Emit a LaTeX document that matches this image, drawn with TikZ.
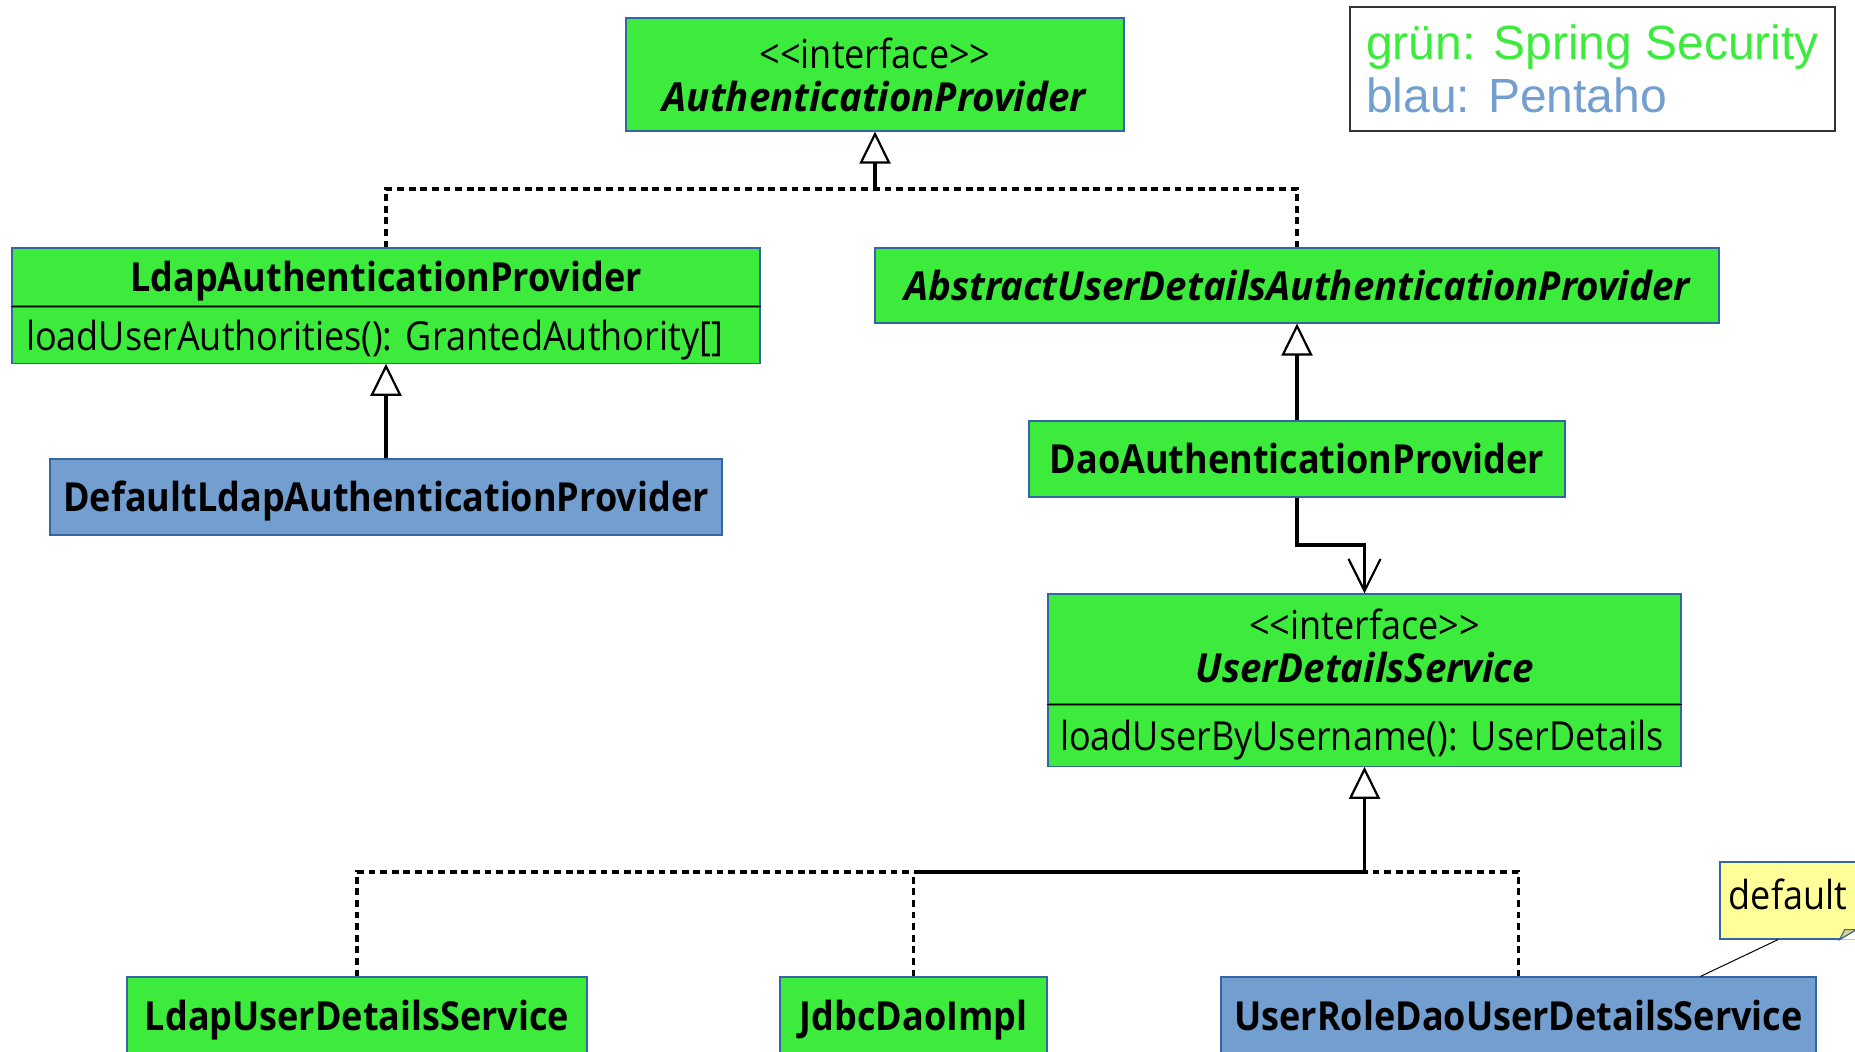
\documentclass[tikz,border=0pt]{standalone}
\usepackage{fontspec}
\usepackage{xcolor}
\usepackage{tikz}
\usetikzlibrary{arrows.meta,positioning}

\newfontfamily\umlfont{Open Sans}[
  UprightFeatures={FakeStretch=0.9},
  BoldFeatures={FakeStretch=0.9},
  BoldItalicFeatures={FakeStretch=0.96}]
\newfontfamily\legendfont{Liberation Sans}

\definecolor{springgreen}{HTML}{3DEB3D}
\definecolor{pentahoblue}{HTML}{729FCF}
\definecolor{boxline}{HTML}{3465A4}
\definecolor{notefill}{HTML}{FFFF99}
\definecolor{notefold}{HTML}{DDD47E}

\begin{document}
\begin{tikzpicture}[
  x=0.5pt, y=-0.5pt,
  cls/.style={rectangle, draw=boxline, line width=0.6pt, fill=springgreen, inner sep=0pt, text height=15pt, text depth=0pt, font=\umlfont\frenchspacing\fontsize{20}{22}\selectfont\bfseries, align=center},
  abstract/.style={cls, font=\umlfont\fontsize{20}{22}\selectfont\bfseries\itshape},
  iface/.style={cls, text height=, text depth=, font=\umlfont\fontsize{20}{21.5}\selectfont},
  method/.style={cls, font=\umlfont\frenchspacing\fontsize{20}{22}\selectfont, align=left},
  pentaho/.style={cls, fill=pentahoblue},
  notebox/.style={rectangle, draw=boxline, line width=0.6pt, fill=notefill, inner sep=0pt, text height=15pt, text depth=6pt, font=\umlfont\fontsize{20}{22}\selectfont},
  legend/.style={rectangle, draw=black!80, line width=0.6pt, inner sep=0pt, align=left, font=\legendfont\fontsize{24}{26.5}\selectfont},
  realize/.style={line width=1.8pt, dash pattern=on 3.4pt off 2.4pt},
  inherit/.style={line width=1.6pt, -{Triangle[length=16pt, width=15.5pt, fill=white, line width=1.1pt]}},
  depend/.style={line width=1.6pt, -{Straight Barb[length=16pt, width=16pt, line width=1.1pt]}}
]
\useasboundingbox (0,0) rectangle (1855,1052);

% Legend
\node[legend, minimum width=242.5pt, minimum height=62pt] (legend) at (1592.5,69)
  {{\color{springgreen}grün: Spring Security}\\{\color{pentahoblue}blau: Pentaho}};

% Provider side
\node[iface, minimum width=249pt, minimum height=56.5pt] (ap) at (875,74.5) {<<interface>>\\\textbf{\textit{AuthenticationProvider}}};
\node[cls, minimum width=374pt, minimum height=29pt] (ldap) at (386,277) {LdapAuthenticationProvider};
\node[method, below=0pt of ldap, text width=360pt, inner xsep=7pt, minimum height=28pt] (ldapm) {loadUserAuthorities(): GrantedAuthority[]};
\draw[line width=0.6pt] (ldap.south west) -- (ldap.south east);
\node[abstract, minimum width=422pt, minimum height=37.5pt] (abs) at (1297,285.5) {AbstractUserDetailsAuthenticationProvider};
\node[pentaho, minimum width=336pt, minimum height=38pt] (dlap) at (386,497) {DefaultLdapAuthenticationProvider};
\node[cls, minimum width=268pt, minimum height=38pt] (dao) at (1297,459) {DaoAuthenticationProvider};

% Service side
\node[iface, text depth=3pt, minimum width=316.5pt, minimum height=55pt] (uds) at (1364.5,649) {<<interface>>\\\textbf{\textit{UserDetailsService}}};
\node[method, below=0pt of uds, text width=304.5pt, inner xsep=6pt, minimum height=30.5pt] (udsm) {loadUserByUsername(): UserDetails};
\draw[line width=0.6pt] (uds.south west) -- (uds.south east);
\node[cls, minimum width=230pt, minimum height=38pt] (luds) at (357,1015) {LdapUserDetailsService};
\node[cls, minimum width=133.5pt, minimum height=38pt] (jdbc) at (913.5,1015) {JdbcDaoImpl};
\node[pentaho, minimum width=297.5pt, minimum height=38pt] (urd) at (1518.5,1015) {UserRoleDaoUserDetailsService};

% Note
\node[notebox, minimum width=68pt, minimum height=38.5pt] (note) at (1788,900.5) {default};
\fill[white] ([xshift=-8.5pt]note.south east) -- (note.south east) -- ([yshift=5pt]note.south east) -- cycle;
\filldraw[fill=notefold, draw=boxline, line width=0.6pt] ([xshift=-8.5pt]note.south east) -- ([yshift=5pt]note.south east) -- ([xshift=-6pt, yshift=5pt]note.south east) -- cycle;
\draw[line width=0.5pt] ([xshift=-5pt]note.south) -- ([xshift=91pt]urd.north);

% Bends
\coordinate (apbus) at (875,189);
\coordinate (daobend) at (1364.5,545);
\coordinate (udsbus) at (1364.5,872);
\coordinate (jdbcbus) at (913.5,872);

% Arrows
\draw[realize] (ldap.north) |- (apbus);
\draw[realize] (abs.north) |- (apbus);
\draw[inherit] (apbus) -- (ap.south);
\draw[inherit] (dlap.north) -- (ldapm.south);
\draw[inherit] (dao.north) -- (abs.south);
\draw[depend] (dao.south) |- (daobend) -- (uds.north);
\draw[realize] (luds.north) |- (jdbcbus);
\draw[realize] (jdbc.north) -- (jdbcbus);
\draw[realize] (urd.north) |- (udsbus);
\draw[line width=1.8pt] (jdbcbus) -- (udsbus);
\draw[inherit] (udsbus) -- (udsm.south);

\end{tikzpicture}
\end{document}
